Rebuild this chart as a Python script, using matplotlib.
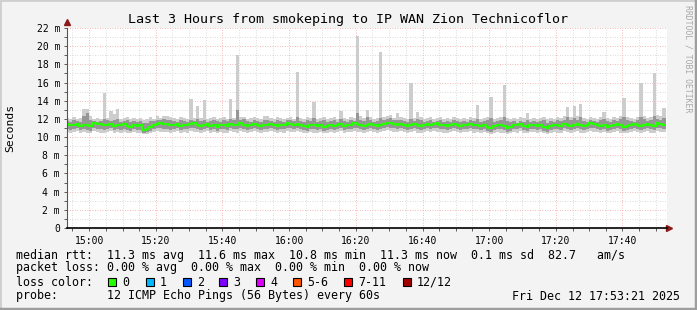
import numpy as np
import pandas as pd
import matplotlib
matplotlib.use("Agg")
import matplotlib.pyplot as plt
import matplotlib.dates as mdates
from matplotlib.patches import Rectangle

plt.rcParams['font.family'] = ['DejaVu Sans Mono']

# one sample per minute, 14:54 .. 17:53 (values in ms)
median = [
    11.4, 11.3, 11.3, 11.4, 11.2, 11.3, 11.3, 11.2, 11.6, 11.4, 11.4, 11.3, 11.3, 11.4, 11.2, 11.3, 11.3, 11.4, 11.2, 11.1,
    11.3, 11.2, 11.3, 10.8, 10.9, 11.1, 11.3, 11.4, 11.5, 11.4, 11.4, 11.3, 11.3, 11.4, 11.2, 11.3, 11.3, 11.4, 11.5, 11.3,
    11.2, 11.3, 11.4, 11.2, 11.3, 11.1, 11.3, 11.3, 11.2, 11.4, 11.3, 11.3, 11.5, 11.3, 11.2, 11.3, 11.4, 11.3, 11.2, 11.3,
    11.3, 11.4, 11.3, 11.2, 11.3, 11.3, 11.5, 11.4, 11.3, 11.4, 11.3, 11.2, 11.1, 11.3, 11.3, 11.2, 11.3, 11.1, 11.2, 11.3,
    11.2, 11.3, 11.4, 11.2, 11.3, 11.3, 11.5, 11.4, 11.3, 11.2, 11.3, 11.4, 11.3, 11.2, 11.3, 11.4, 11.6, 11.5, 11.4, 11.3,
    11.4, 11.3, 11.2, 11.3, 11.4, 11.3, 11.2, 11.3, 11.4, 11.3, 11.4, 11.5, 11.3, 11.3, 11.2, 11.3, 11.4, 11.3, 11.2, 11.3,
    11.3, 11.4, 11.3, 11.3, 11.2, 11.3, 11.1, 11.0, 11.2, 11.3, 11.3, 11.2, 11.0, 11.1, 11.3, 11.3, 11.4, 11.2, 11.1, 11.3,
    11.3, 11.2, 11.3, 11.1, 11.0, 11.2, 11.3, 11.3, 11.2, 11.4, 11.3, 11.2, 11.3, 11.4, 11.3, 11.2, 11.3, 11.5, 11.4, 11.3,
    11.2, 11.3, 11.1, 11.2, 11.3, 11.4, 11.3, 11.1, 11.2, 11.3, 11.4, 11.3, 11.2, 11.3, 11.4, 11.3, 11.2, 11.5, 11.4, 11.3,
]
ping_max = [
    12.1, 12.0, 12.2, 12.0, 12.1, 13.1, 13.1, 12.3, 12.0, 12.1, 12.0, 14.8, 12.1, 12.9, 12.5, 13.1, 12.0, 12.1, 12.2, 12.0,
    12.1, 12.0, 12.1, 11.9, 12.0, 12.2, 12.0, 12.3, 12.1, 12.3, 12.3, 12.2, 12.1, 12.0, 12.2, 12.1, 12.0, 14.2, 12.1, 13.4,
    12.1, 14.1, 12.0, 12.1, 12.2, 12.0, 12.1, 12.2, 12.0, 14.2, 12.1, 19.0, 12.2, 12.2, 12.0, 12.1, 12.2, 12.1, 12.0, 12.3,
    12.3, 12.1, 12.0, 12.2, 12.1, 12.0, 12.1, 12.2, 12.0, 17.2, 12.1, 12.0, 12.2, 12.1, 13.9, 12.0, 12.1, 12.2, 12.0, 12.1,
    12.2, 12.0, 12.9, 12.1, 12.0, 12.2, 12.1, 21.1, 12.3, 12.1, 13.0, 12.2, 12.0, 12.1, 19.4, 12.2, 12.3, 12.4, 12.1, 12.7,
    12.2, 12.1, 12.0, 16.0, 12.1, 12.8, 12.2, 12.0, 12.1, 12.2, 12.0, 12.1, 12.2, 12.0, 12.1, 12.0, 12.2, 12.1, 12.0, 12.1,
    12.0, 12.2, 12.1, 13.5, 12.0, 12.1, 12.2, 14.4, 12.0, 12.1, 12.2, 15.7, 12.1, 12.0, 12.1, 12.0, 12.2, 12.1, 12.7, 12.0,
    12.1, 12.0, 12.1, 12.2, 12.0, 12.1, 12.0, 12.2, 12.1, 12.3, 13.3, 12.2, 13.4, 12.3, 13.6, 12.1, 12.0, 12.2, 12.1, 12.0,
    12.2, 12.8, 12.1, 12.0, 12.2, 12.1, 12.3, 14.3, 12.2, 12.1, 12.0, 12.2, 16.0, 12.3, 12.1, 12.2, 17.1, 12.4, 12.3, 13.2,
]
ping_hi = [
    11.8, 11.7, 11.9, 11.8, 11.7, 12.3, 12.6, 11.9, 11.8, 11.7, 11.8, 12.0, 11.9, 11.8, 11.9, 12.0, 11.7, 11.8, 11.9, 11.7,
    11.8, 11.7, 11.8, 11.5, 11.6, 11.8, 11.8, 11.9, 11.9, 12.0, 11.9, 11.9, 11.8, 11.7, 11.9, 11.8, 11.7, 11.9, 11.8, 12.0,
    11.8, 11.9, 11.7, 11.8, 11.9, 11.8, 11.7, 11.9, 11.8, 12.0, 11.9, 13.0, 11.9, 12.0, 11.8, 11.7, 11.9, 11.8, 11.7, 11.9,
    11.9, 11.8, 11.7, 11.9, 11.8, 11.7, 11.9, 11.9, 11.8, 12.2, 11.8, 11.7, 11.9, 11.8, 12.1, 11.7, 11.8, 11.9, 11.7, 11.8,
    11.9, 11.7, 12.0, 11.8, 11.7, 11.9, 11.8, 12.6, 11.9, 11.8, 12.2, 11.9, 11.7, 11.8, 12.1, 11.9, 12.0, 12.1, 11.9, 11.9,
    11.9, 11.8, 11.7, 12.0, 11.8, 12.0, 11.9, 11.7, 11.8, 11.9, 11.7, 11.8, 11.9, 11.7, 11.8, 11.7, 11.9, 11.8, 11.7, 11.8,
    11.7, 11.9, 11.8, 12.0, 11.7, 11.8, 11.9, 12.1, 11.7, 11.8, 11.9, 12.2, 11.8, 11.7, 11.8, 11.6, 11.8, 11.7, 11.9, 11.7,
    11.8, 11.7, 11.8, 11.9, 11.6, 11.8, 11.7, 11.9, 11.8, 11.9, 12.2, 11.9, 12.1, 11.9, 12.2, 11.8, 11.7, 11.9, 11.8, 11.7,
    11.9, 12.0, 11.8, 11.7, 11.9, 11.8, 12.0, 12.2, 11.9, 11.8, 11.7, 11.9, 12.2, 12.0, 11.8, 11.9, 12.3, 12.0, 11.9, 12.1,
]
ping_lo = [
    10.9, 10.8, 10.9, 11.0, 10.8, 10.9, 10.8, 10.7, 11.0, 10.9, 10.9, 10.8, 10.9, 11.0, 10.8, 10.9, 10.8, 10.9, 10.8, 10.7,
    10.9, 10.8, 10.8, 10.5, 10.6, 10.7, 10.9, 11.0, 11.0, 10.9, 10.9, 10.8, 10.9, 11.0, 10.8, 10.9, 10.9, 11.0, 11.0, 10.9,
    10.8, 10.9, 11.0, 10.8, 10.9, 10.7, 10.9, 10.9, 10.8, 11.0, 10.9, 10.9, 11.0, 10.9, 10.8, 10.9, 11.0, 10.9, 10.8, 10.9,
    10.9, 11.0, 10.9, 10.8, 10.9, 10.9, 11.0, 11.0, 10.9, 11.0, 10.9, 10.8, 10.7, 10.9, 10.9, 10.8, 10.9, 10.7, 10.8, 10.9,
    10.8, 10.9, 11.0, 10.8, 10.9, 10.9, 11.0, 11.0, 10.9, 10.8, 10.9, 11.0, 10.9, 10.8, 10.9, 11.0, 11.1, 11.0, 11.0, 10.9,
    11.0, 10.9, 10.8, 10.9, 11.0, 10.9, 10.8, 10.9, 11.0, 10.9, 11.0, 11.0, 10.9, 10.9, 10.8, 10.9, 11.0, 10.9, 10.8, 10.9,
    10.9, 11.0, 10.9, 10.9, 10.8, 10.9, 10.7, 10.6, 10.8, 10.9, 10.9, 10.8, 10.6, 10.7, 10.9, 10.9, 11.0, 10.8, 10.7, 10.9,
    10.9, 10.8, 10.9, 10.7, 10.6, 10.8, 10.9, 10.9, 10.8, 11.0, 10.9, 10.8, 10.9, 11.0, 10.9, 10.8, 10.9, 11.0, 11.0, 10.9,
    10.8, 10.9, 10.7, 10.8, 10.9, 11.0, 10.9, 10.7, 10.8, 10.9, 11.0, 10.9, 10.8, 10.9, 11.0, 10.9, 10.8, 11.0, 11.0, 10.9,
]
ping_min = [
    10.6, 10.5, 10.6, 10.7, 10.5, 10.6, 10.5, 10.4, 10.7, 10.6, 10.5, 10.5, 10.6, 10.7, 10.5, 10.6, 10.4, 10.6, 10.5, 10.4,
    10.6, 10.5, 10.5, 10.3, 10.3, 10.4, 10.6, 10.7, 10.6, 10.6, 10.6, 10.5, 10.6, 10.7, 10.5, 10.6, 10.5, 10.7, 10.6, 10.6,
    10.5, 10.6, 10.7, 10.5, 10.6, 10.4, 10.6, 10.5, 10.5, 10.7, 10.6, 10.5, 10.7, 10.6, 10.5, 10.6, 10.7, 10.6, 10.4, 10.6,
    10.6, 10.7, 10.6, 10.5, 10.6, 10.5, 10.7, 10.6, 10.6, 10.7, 10.6, 10.5, 10.4, 10.6, 10.5, 10.5, 10.6, 10.4, 10.5, 10.6,
    10.5, 10.6, 10.7, 10.5, 10.6, 10.6, 10.7, 10.6, 10.6, 10.5, 10.6, 10.7, 10.6, 10.5, 10.6, 10.7, 10.8, 10.7, 10.6, 10.6,
    10.7, 10.6, 10.5, 10.6, 10.7, 10.5, 10.5, 10.6, 10.7, 10.6, 10.7, 10.6, 10.6, 10.5, 10.5, 10.6, 10.7, 10.6, 10.5, 10.6,
    10.6, 10.7, 10.5, 10.6, 10.5, 10.6, 10.4, 10.3, 10.5, 10.6, 10.5, 10.5, 10.3, 10.4, 10.6, 10.5, 10.7, 10.5, 10.4, 10.6,
    10.6, 10.5, 10.6, 10.4, 10.3, 10.5, 10.6, 10.5, 10.5, 10.7, 10.6, 10.5, 10.6, 10.7, 10.5, 10.5, 10.6, 10.7, 10.6, 10.6,
    10.5, 10.6, 10.4, 10.5, 10.6, 10.7, 10.5, 10.4, 10.5, 10.6, 10.7, 10.6, 10.5, 10.6, 10.7, 10.5, 10.5, 10.7, 10.6, 10.6,
]

start = "2025-12-12 14:53:21"
end = "2025-12-12 17:53:21"
edges = mdates.date2num(pd.date_range("2025-12-12 14:53", periods=len(median) + 1, freq="min"))
tick_labels = ["15:00", "15:20", "15:40", "16:00", "16:20", "16:40", "17:00", "17:20", "17:40"]
y_ticks = [0, 2, 4, 6, 8, 10, 12, 14, 16, 18, 20, 22]

loss_labels = ["0", "1", "2", "3", "4", "5-6", "7-11", "12/12"]
loss_colors = ["#26ff00", "#00b8ff", "#0059ff", "#7e00ff", "#dd00ff", "#ff5500", "#ff0000", "#a10000"]

W, H = 697, 310
fig = plt.figure(figsize=(W / 100, H / 100), dpi=100, facecolor="#f3f3f3")

# frame around the image
fig.add_artist(Rectangle((0, 0), 1, 1, transform=fig.transFigure, fill=False, edgecolor="#cfcfcf", lw=2))
fig.add_artist(plt.Line2D([1 - 1.5 / W, 1 - 1.5 / W], [0, 1], color="#9e9e9e", lw=2.5))
fig.add_artist(plt.Line2D([0, 1], [1.5 / H, 1.5 / H], color="#9e9e9e", lw=2.5))

ax = fig.add_axes([67 / W, (H - 228) / H, 600 / W, 200 / H])
ax.set_facecolor("white")

# smoke
ax.stairs(ping_max, edges, baseline=ping_min, fill=True, color="#cdcdcd", lw=0)
ax.stairs(ping_hi, edges, baseline=ping_lo, fill=True, color="#969696", lw=0)
ax.stairs(median, edges, baseline=None, color="#26ff00", lw=1.5)

ax.set_xlim(mdates.date2num(pd.Timestamp(start)), mdates.date2num(pd.Timestamp(end)))
ax.set_ylim(0, 22)

tick_pos = [mdates.date2num(pd.Timestamp("2025-12-12 " + t)) for t in tick_labels]
ax.set_xticks(tick_pos)
ax.set_xticklabels(tick_labels)
ax.xaxis.set_minor_locator(mdates.MinuteLocator(byminute=range(0, 60, 5)))
ax.set_yticks(y_ticks)
ax.set_yticklabels([f"{v} m" if v else "0" for v in y_ticks])
ax.set_yticks(np.arange(1, 22, 2), minor=True)

ax.grid(True, which="major", color="#f2a0a0", lw=0.6, ls=(0, (1, 2)))
ax.grid(True, which="minor", color="#cfcfcf", lw=0.6, ls=(0, (1, 2)))
ax.set_axisbelow(True)

ax.tick_params(which="both", labelsize=7, length=2, width=0.6, color="#444444", pad=3)
ax.tick_params(axis="x", pad=4)
for s in ["top", "right"]:
    ax.spines[s].set_visible(False)
ax.spines["left"].set_color("#555555")
ax.spines["bottom"].set_color("black")
ax.spines["bottom"].set_linewidth(1.2)

# axis arrows
ax.plot([0], [1.03], marker="^", color="#8b1a1a", ms=5, transform=ax.transAxes, clip_on=False)
ax.plot([1.003], [0], marker=">", color="#8b1a1a", ms=5, transform=ax.transAxes, clip_on=False)

fig.text(348 / W, 1 - 19 / H, "Last 3 Hours from smokeping to IP WAN Zion Technicoflor",
         ha="center", va="center", fontsize=9.6)
fig.text(10 / W, 1 - 128 / H, "Seconds", rotation=90, ha="center", va="center", fontsize=8.2)
fig.text(688 / W, 1 - 5 / H, "RRDTOOL / TOBI OETIKER", rotation=-90, ha="center", va="top",
         fontsize=5.9, color="#a8a8a8")

lx = 16 / W
fig.text(lx, 1 - 255 / H,
         "median rtt:  11.3 ms avg  11.6 ms max  10.8 ms min  11.3 ms now  0.1 ms sd  82.7   am/s",
         va="center", fontsize=8.4)
fig.text(lx, 1 - 268 / H, "packet loss: 0.00 % avg  0.00 % max  0.00 % min  0.00 % now",
         va="center", fontsize=8.4)
fig.text(lx, 1 - 282 / H, "loss color:", va="center", fontsize=8.4)
box_x = [108, 146, 183, 219, 256, 293, 344, 403]
for bx, lab, col in zip(box_x, loss_labels, loss_colors):
    fig.add_artist(Rectangle((bx / W, 1 - 286 / H), 8 / W, 8 / H, transform=fig.transFigure,
                             facecolor=col, edgecolor="black", lw=0.8))
    fig.text((bx + 14) / W, 1 - 282 / H, lab, va="center", fontsize=8.4)
fig.text(lx, 1 - 296 / H, "probe:       12 ICMP Echo Pings (56 Bytes) every 60s", va="center", fontsize=8.4)
fig.text(680 / W, 1 - 296 / H, "Fri Dec 12 17:53:21 2025", ha="right", va="center", fontsize=8.4)

fig.savefig("out.png", dpi=100, facecolor=fig.get_facecolor())
